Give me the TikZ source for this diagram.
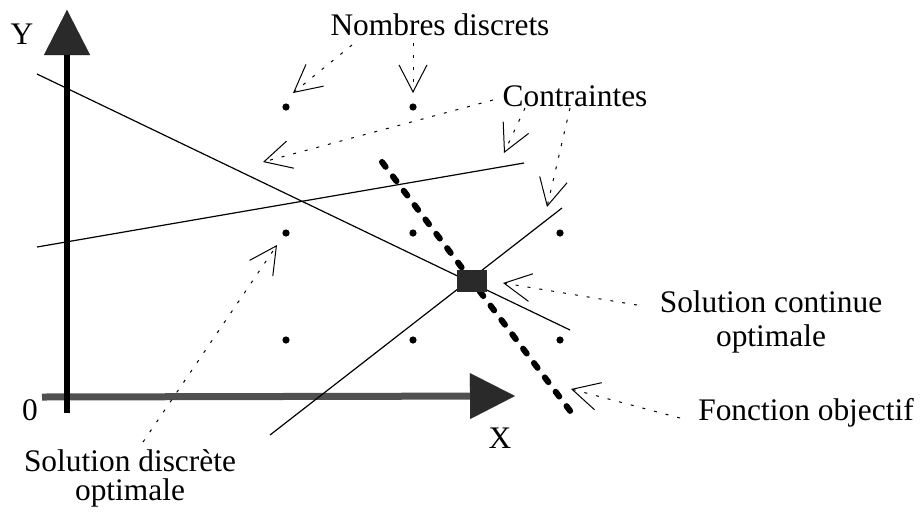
\documentclass[tikz,border=0pt]{standalone}
\usepackage{fontspec}
\setmainfont{Liberation Serif}
\usepackage{tikz}
\usetikzlibrary{
  arrows.meta,
  calc
}
\definecolor{axisdark}{HTML}{2A2A2A}
\definecolor{axisgrey}{HTML}{505050}

\begin{document}
\begin{tikzpicture}[x=0.5pt, y=-0.5pt,
  lbl/.style={font=\fontsize{15.7}{17}\selectfont, inner sep=0pt},
  dot/.style={circle, fill=black, inner sep=0pt, minimum size=3.6pt},
  constraint/.style={line width=0.6pt},
  pointer/.style={line width=0.5pt, dash pattern=on 1.5pt off 4.5pt,
    -{Straight Barb[length=13.5pt, width=14pt]}},
  bigtip/.style={-{Triangle[length=22.5pt, width=23pt, line width=0.01pt, fill=axisdark]}}
]
  \useasboundingbox (0,0) rectangle (920,515);

  % axes
  \draw[line width=3.5pt, color=axisgrey, bigtip] (42,397) -- (515,396);
  \draw[line width=3pt, color=black, bigtip] (67,413) -- (67,10);
  \node[lbl, anchor=base] (ylab) at (22,44) {Y};
  \node[lbl, anchor=base] (zero) at (30,420) {0};
  \node[lbl, anchor=base] (xlab) at (500,448) {X};

  % contraintes
  \draw[constraint] (37,74) -- (570,330);
  \draw[constraint] (37,247) -- (524,163);
  \draw[constraint] (270,435) -- (562,208);

  % fonction objectif
  \draw[line width=3pt, line cap=round, dash pattern=on 3pt off 6pt] (382,162) -- (577,420);

  % nombres discrets
  \foreach \n/\x/\y in {a/286/107, b/413/107, c/286/233, d/413/233,
                        e/560/233, f/286/340, g/413/340, h/560/340}
    \node[dot] (dot-\n) at (\x,\y) {};

  \node[fill=axisdark, minimum width=15pt, minimum height=11pt, inner sep=0pt] (opt) at (472,281) {};

  % labels
  \node[lbl, anchor=base] (nd) at (440,35) {Nombres discrets};
  \node[lbl, anchor=base] (ct) at (575,106) {Contraintes};
  \node[lbl, align=center] (sc) at (771,322) {Solution continue\\optimale};
  \node[lbl, anchor=base] (fo) at (806,420) {Fonction objectif};
  \node[lbl, align=center, font=\fontsize{15.7}{14.5}\selectfont] (sd) at (130,478) {Solution discrète\\optimale};

  % pointer ends
  \coordinate (nd-a) at (352,45);
  \coordinate (nd-b) at (413,43);
  \coordinate (ct-a) at (493,100);
  \coordinate (ct-b) at (525,108);
  \coordinate (ct-c) at (570,108);
  \coordinate (sc-a) at (637,305);
  \coordinate (fo-a) at (680,418);
  \coordinate (sd-a) at (143,442);
  \coordinate (to-a) at (293,93);
  \coordinate (to-b) at (413,93);
  \coordinate (to-c) at (263,162);
  \coordinate (to-d) at (504,153);
  \coordinate (to-e) at (547,207);
  \coordinate (to-f) at (503,283);
  \coordinate (to-g) at (571,389);
  \coordinate (to-h) at (277,245);

  \draw[pointer] (nd-a) -- (to-a);
  \draw[pointer] (nd-b) -- (to-b);
  \draw[pointer] (ct-a) -- (to-c);
  \draw[pointer] (ct-b) -- (to-d);
  \draw[pointer] (ct-c) -- (to-e);
  \draw[pointer] (sc-a) -- (to-f);
  \draw[pointer] (fo-a) -- (to-g);
  \draw[pointer] (sd-a) -- (to-h);
\end{tikzpicture}
\end{document}
